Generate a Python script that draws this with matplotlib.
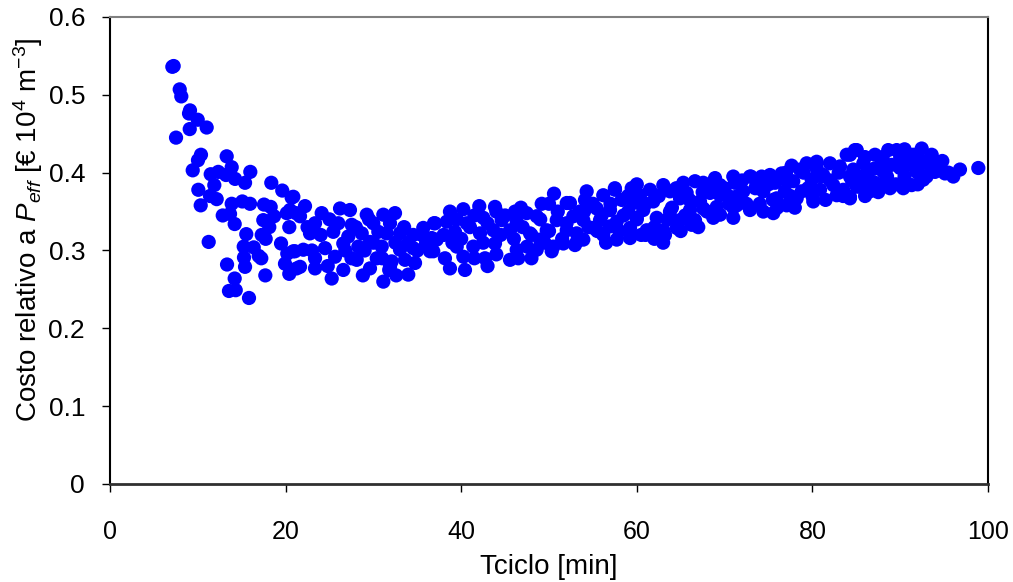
import matplotlib
matplotlib.use('Agg')
import matplotlib.pyplot as plt

# Tciclo [min] and relative cost
tciclo = [
    # short cycles (steep part)
    7.10, 7.25, 7.94, 8.12, 9.11, 9.00, 9.99, 11.01, 9.08, 7.52, 10.36, 10.02, 13.29, 9.42, 13.86,
    15.98, 11.47, 12.33, 13.21, 14.24, 15.38, 11.88, 18.37, 10.06, 19.62, 20.69, 11.39, 12.15, 10.33,
    13.86, 15.07, 15.95, 17.54, 18.30, 12.84, 13.67, 14.20, 17.46, 18.68, 20.13, 21.18, 20.42, 18.14,
    15.52, 17.28, 17.73, 11.24, 15.23, 16.37, 19.48, 20.19, 21.07, 15.26, 16.94, 17.23, 13.33, 15.38,
    19.93, 21.26, 20.42, 17.69, 14.20, 13.55, 14.32, 15.83,
    # 20 - 37 min
    20.88, 22.21, 21.64, 20.50, 24.11, 23.35, 26.20, 27.33, 26.00, 27.53, 29.24, 31.13, 32.46, 29.99,
    31.89, 33.03, 35.68, 36.90, 34.54, 36.64, 22.78, 25.43, 27.14, 28.67, 30.56, 31.51, 20.88, 22.02,
    24.49, 26.57, 28.28, 29.61, 30.95, 33.03, 34.54, 36.45, 23.35, 25.63, 28.10, 30.38, 32.08, 33.60,
    34.74, 21.64, 23.35, 26.57, 29.61, 31.89, 33.97, 25.25, 31.13,
    22.5, 24.0, 25.0, 26.8, 28.0, 29.0, 30.0, 31.0, 32.5, 33.5, 34.0, 35.0, 35.5, 36.0, 27.5, 24.8,
    23.0, 29.5, 31.8, 28.8, 32.6,
    # 37 - 53 min
    50.57, 52.02, 49.17, 42.06, 43.85, 40.24, 38.72, 46.13, 47.46, 37.02, 38.35, 40.63, 42.52, 44.61,
    46.32, 48.60, 50.88, 52.77, 39.29, 42.14, 43.66, 45.56, 47.84, 49.74, 52.02, 37.21, 39.49, 41.38,
    43.85, 46.32, 48.97, 51.63, 53.15, 36.82, 38.15, 40.24, 42.71, 45.56, 48.60, 50.31, 38.72, 40.43,
    38.0, 39.0, 40.0, 41.0, 41.5, 42.5, 43.0, 44.0, 44.5, 45.0, 46.0, 47.0, 47.5, 48.0, 49.0, 49.5,
    50.0, 51.0, 51.5, 52.0, 53.5, 44.0, 41.5, 39.5, 46.8, 50.0, 48.0, 50.5, 43.0, 46.5,
    # 53 - 69 min
    68.91, 63.02, 65.30, 66.63, 67.57, 59.42, 61.50, 57.52, 54.29, 56.18, 60.36, 63.78, 65.68, 68.34,
    54.10, 58.28, 59.60, 61.88, 64.92, 67.20, 52.39, 55.43, 56.95, 59.03, 60.74, 63.78, 66.06, 67.57,
    69.10, 53.91, 55.81, 57.71, 59.99, 62.27, 64.92, 66.63, 68.71, 53.15, 55.05, 56.95, 59.23, 61.13,
    63.02, 64.54, 66.25, 53.91, 56.18, 57.71, 59.23, 63.21, 52.96,
    54.5, 55.0, 56.0, 56.5, 57.0, 58.0, 58.5, 59.0, 60.0, 60.5, 61.0, 62.0, 62.5, 63.5, 64.0, 64.5,
    65.5, 66.0, 67.0, 67.5, 68.0, 68.5, 62.0, 65.0, 57.5, 60.0, 54.0, 55.5, 61.0, 63.0, 66.5,
    # 69 - 85 min
    84.85, 83.91, 80.49, 82.00, 79.35, 77.64, 83.14, 78.59, 76.50, 75.17, 74.22, 72.89, 70.99, 81.24,
    84.28, 79.92, 77.82, 75.74, 73.66, 71.18, 69.48, 82.38, 85.05, 72.13, 74.41, 76.88, 78.78, 80.87,
    83.52, 69.48, 70.62, 75.93, 78.21, 80.10, 82.77, 84.28, 69.10, 71.38, 72.89, 74.41, 75.55, 77.07,
    70.99, 69.48,
    70.0, 70.5, 71.5, 72.0, 72.5, 73.5, 74.0, 75.0, 75.5, 76.0, 77.0, 77.5, 78.0, 79.0, 79.5, 80.0,
    81.0, 81.5, 82.0, 83.0, 83.5, 84.5, 80.5, 77.0, 73.0, 71.0,
    # long cycles
    98.90, 96.81, 96.05, 95.10, 94.34, 93.59, 92.45, 91.49, 89.60, 88.64, 87.13, 85.05, 84.28, 85.80,
    87.89, 90.35, 93.02, 91.88, 89.98, 88.08, 86.18, 84.66, 93.96, 92.63, 91.31, 90.35, 88.84, 87.13,
    85.42, 84.28, 86.56,
    85.5, 86.0, 86.5, 87.0, 87.5, 88.0, 88.5, 89.0, 89.5, 90.0, 90.5, 91.0, 91.5, 92.0, 92.5, 93.0,
    94.0, 94.8, 86.0, 88.0, 90.5, 92.0, 95.5,
]
costo = [
    0.536, 0.537, 0.507, 0.498, 0.480, 0.476, 0.468, 0.458, 0.456, 0.445, 0.423, 0.416, 0.421, 0.403, 0.407,
    0.401, 0.398, 0.401, 0.397, 0.392, 0.387, 0.384, 0.387, 0.378, 0.377, 0.368, 0.370, 0.366, 0.358,
    0.360, 0.363, 0.360, 0.359, 0.356, 0.345, 0.347, 0.334, 0.339, 0.344, 0.348, 0.348, 0.330, 0.330,
    0.321, 0.320, 0.315, 0.311, 0.305, 0.304, 0.309, 0.296, 0.299, 0.291, 0.293, 0.290, 0.282, 0.279,
    0.283, 0.277, 0.270, 0.268, 0.264, 0.248, 0.249, 0.239,
    0.369, 0.357, 0.344, 0.352, 0.348, 0.335, 0.354, 0.352, 0.335, 0.333, 0.346, 0.346, 0.348, 0.335,
    0.335, 0.322, 0.329, 0.335, 0.320, 0.316, 0.322, 0.324, 0.318, 0.322, 0.324, 0.322, 0.299, 0.301,
    0.303, 0.309, 0.305, 0.311, 0.305, 0.301, 0.303, 0.299, 0.290, 0.292, 0.288, 0.290, 0.286, 0.288,
    0.284, 0.279, 0.277, 0.275, 0.277, 0.279, 0.269, 0.264, 0.260,
    0.330, 0.320, 0.340, 0.300, 0.330, 0.300, 0.310, 0.290, 0.310, 0.330, 0.310, 0.300, 0.320, 0.310,
    0.290, 0.280, 0.300, 0.340, 0.275, 0.268, 0.268,
    0.373, 0.361, 0.360, 0.357, 0.356, 0.353, 0.350, 0.350, 0.348, 0.335, 0.337, 0.335, 0.342, 0.339,
    0.337, 0.344, 0.339, 0.344, 0.324, 0.322, 0.326, 0.326, 0.322, 0.326, 0.326, 0.314, 0.305, 0.305,
    0.309, 0.301, 0.314, 0.309, 0.311, 0.299, 0.290, 0.292, 0.290, 0.288, 0.301, 0.299, 0.277, 0.275,
    0.320, 0.310, 0.315, 0.330, 0.290, 0.310, 0.335, 0.295, 0.320, 0.345, 0.315, 0.330, 0.305, 0.320,
    0.340, 0.310, 0.325, 0.350, 0.315, 0.335, 0.350, 0.350, 0.345, 0.340, 0.355, 0.360, 0.290, 0.305,
    0.280, 0.290,
    0.393, 0.384, 0.387, 0.389, 0.387, 0.380, 0.378, 0.378, 0.376, 0.371, 0.371, 0.376, 0.374, 0.374,
    0.365, 0.365, 0.361, 0.363, 0.367, 0.363, 0.361, 0.354, 0.352, 0.350, 0.352, 0.350, 0.352, 0.354,
    0.348, 0.339, 0.339, 0.337, 0.342, 0.342, 0.339, 0.339, 0.342, 0.322, 0.329, 0.331, 0.329, 0.326,
    0.326, 0.329, 0.333, 0.314, 0.320, 0.314, 0.316, 0.320, 0.307,
    0.330, 0.360, 0.345, 0.310, 0.360, 0.325, 0.345, 0.370, 0.340, 0.320, 0.360, 0.330, 0.370, 0.340,
    0.355, 0.380, 0.345, 0.365, 0.330, 0.375, 0.350, 0.385, 0.315, 0.325, 0.380, 0.385, 0.350, 0.325,
    0.320, 0.310, 0.335,
    0.429, 0.423, 0.414, 0.412, 0.412, 0.409, 0.408, 0.404, 0.399, 0.397, 0.395, 0.395, 0.395, 0.397,
    0.395, 0.391, 0.389, 0.387, 0.384, 0.387, 0.384, 0.384, 0.382, 0.376, 0.376, 0.376, 0.376, 0.378,
    0.378, 0.371, 0.369, 0.367, 0.367, 0.363, 0.371, 0.367, 0.356, 0.358, 0.352, 0.350, 0.348, 0.358,
    0.342, 0.346,
    0.380, 0.360, 0.370, 0.390, 0.360, 0.380, 0.360, 0.385, 0.365, 0.355, 0.390, 0.370, 0.355, 0.400,
    0.380, 0.370, 0.395, 0.365, 0.390, 0.400, 0.370, 0.390, 0.405, 0.400, 0.395, 0.355,
    0.406, 0.404, 0.395, 0.399, 0.412, 0.423, 0.431, 0.423, 0.429, 0.429, 0.423, 0.429, 0.423, 0.412,
    0.412, 0.414, 0.412, 0.401, 0.406, 0.401, 0.399, 0.404, 0.401, 0.391, 0.384, 0.380, 0.380, 0.387,
    0.382, 0.369, 0.376,
    0.395, 0.420, 0.390, 0.405, 0.375, 0.420, 0.395, 0.410, 0.385, 0.420, 0.395, 0.410, 0.420, 0.405,
    0.415, 0.395, 0.405, 0.415, 0.370, 0.385, 0.430, 0.385, 0.400,
]

plt.rcParams['font.family'] = ['Liberation Sans', 'DejaVu Sans']
plt.rcParams['mathtext.fontset'] = 'custom'
plt.rcParams['mathtext.rm'] = 'Liberation Sans'
plt.rcParams['mathtext.it'] = 'Liberation Sans:italic'

fig = plt.figure(figsize=(10.13, 5.82), dpi=100)
ax = fig.add_axes([0.1086, 0.1684, 0.8667, 0.8024])

ax.scatter(tciclo, costo, s=105, color='#0000ff', edgecolors='none', zorder=3)

ax.set_xlim(0, 100)
ax.set_ylim(0, 0.6)
ax.set_xticks([0, 20, 40, 60, 80, 100])
ax.set_xticklabels(['0', '20', '40', '60', '80', '100'])
ax.set_yticks([0, 0.1, 0.2, 0.3, 0.4, 0.5, 0.6])
ax.set_yticklabels(['0', '0.1', '0.2', '0.3', '0.4', '0.5', '0.6'])
ax.tick_params(axis='x', direction='out', length=6, width=1, pad=20, labelsize=18)
ax.tick_params(axis='y', direction='out', length=6, width=1, pad=12, labelsize=19)

ax.spines['top'].set_color('#808080')
ax.spines['top'].set_linewidth(1.5)
ax.spines['right'].set_color('black')
ax.spines['right'].set_linewidth(1.5)
ax.spines['left'].set_color('black')
ax.spines['left'].set_linewidth(1.5)
ax.spines['bottom'].set_color('#303030')
ax.spines['bottom'].set_linewidth(2)

ax.set_xlabel('Tciclo [min]', fontsize=20)
ax.set_ylabel('Costo relativo a $P_{eff}$ [€ 10$^{4}$ m$^{-3}$]', fontsize=20)
ax.xaxis.set_label_coords(0.5, -0.178)
ax.xaxis.label.set_va('center')
ax.yaxis.set_label_coords(-0.093, 0.544)
ax.yaxis.label.set_va('center')

plt.savefig('out.png', dpi=100)
